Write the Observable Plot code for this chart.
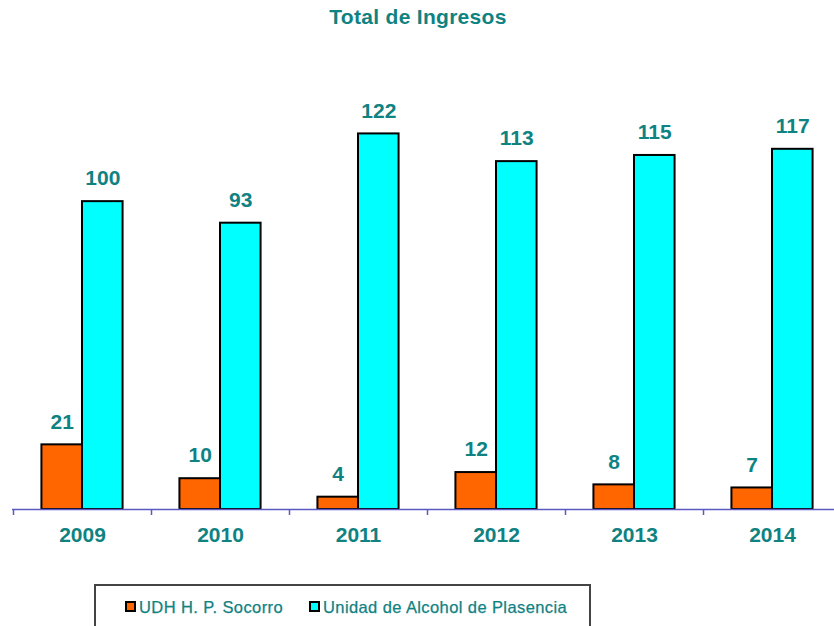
<!DOCTYPE html>
<html>
<head>
<meta charset="utf-8">
<script src="https://cdn.jsdelivr.net/npm/d3@7"></script>
<script src="https://cdn.jsdelivr.net/npm/@observablehq/plot@0.6"></script>
<style>
  html, body { margin: 0; padding: 0; background: #fff; }
  #wrap { position: relative; width: 834px; height: 626px; overflow: hidden; font-family: "Liberation Sans", Arial, sans-serif; }
  #title { position: absolute; left: 0; top: 5px; width: 836px; text-align: center; font-size: 21px; font-weight: bold; color: #0f8282; letter-spacing: 0.3px; }
  #chart { position: absolute; left: 0; top: 0; }
  #legend { position: absolute; left: 94px; top: 584px; width: 497px; height: 60px; border: 2px solid #444; background: #fff; box-sizing: border-box; }
  .item { position: absolute; top: 12px; font-size: 16.5px; color: #0f8282; white-space: nowrap; letter-spacing: 0.4px; -webkit-text-stroke: 0.25px #0f8282; }
  .sw { display: inline-block; width: 7px; height: 7px; border: 2px solid #000; vertical-align: 1px; margin-right: 3px; }
</style>
</head>
<body>
<div id="wrap">
  <div id="chart"></div>
  <div id="title">Total de Ingresos</div>
  <div id="legend"></div>
</div>
<script>
const years = [2009, 2010, 2011, 2012, 2013, 2014];
const seriesNames = ["UDH H. P. Socorro", "Unidad de Alcohol de Plasencia"];
const socorro = [21, 10, 4, 12, 8, 7];
const plasencia = [100, 93, 122, 113, 115, 117];
const colors = ["#ff6600", "#00ffff"];

const teal = "#0f8282";
const axisColor = "#5a5ac0";
const bw = 0.294; // bar width in year units

const rows = [];
years.forEach((y, i) => {
  rows.push({year: y, serie: seriesNames[0], value: socorro[i], side: -1});
  rows.push({year: y, serie: seriesNames[1], value: plasencia[i], side: 1});
});
const boundaries = years.map(y => y - 0.5).concat([years[years.length - 1] + 0.5]);

const plot = Plot.plot({
  width: 834,
  height: 626,
  marginTop: 78,
  marginBottom: 117,
  marginLeft: 12,
  marginRight: 0,
  style: {fontFamily: "'Liberation Sans', Arial, sans-serif", background: "transparent"},
  x: {type: "linear", domain: [2008.5, 2014.5], range: [13, 841]},
  y: {domain: [0, 140], axis: null},
  color: {domain: seriesNames, range: colors},
  marks: [
    Plot.rect(rows, {
      x1: d => d.side < 0 ? d.year - bw : d.year,
      x2: d => d.side < 0 ? d.year : d.year + bw,
      y1: 0,
      y2: "value",
      fill: "serie",
      stroke: "#000",
      strokeWidth: 2
    }),
    Plot.ruleY([0], {stroke: axisColor, strokeWidth: 1.5}),
    Plot.axisX({ticks: boundaries, tickSize: 6, tickFormat: () => "", stroke: axisColor, strokeWidth: 1.5}),
    Plot.axisX({ticks: years, tickSize: 0, tickPadding: 18, tickFormat: d => String(d),
      fontSize: 21, fontWeight: "bold", fill: teal}),
    Plot.text(rows, {
      x: d => d.year + d.side * bw / 2,
      y: "value",
      text: d => String(d.value),
      dy: -23,
      fontSize: 21,
      fontWeight: "bold",
      fill: teal,
      letterSpacing: 0.5
    })
  ]
});
document.getElementById("chart").appendChild(plot);

const legend = document.getElementById("legend");
const lefts = [29, 213];
seriesNames.forEach((name, i) => {
  const it = document.createElement("div");
  it.className = "item";
  it.style.left = lefts[i] + "px";
  const sw = document.createElement("span");
  sw.className = "sw";
  sw.style.background = colors[i];
  it.appendChild(sw);
  it.appendChild(document.createTextNode(name));
  legend.appendChild(it);
});
</script>
</body>
</html>
